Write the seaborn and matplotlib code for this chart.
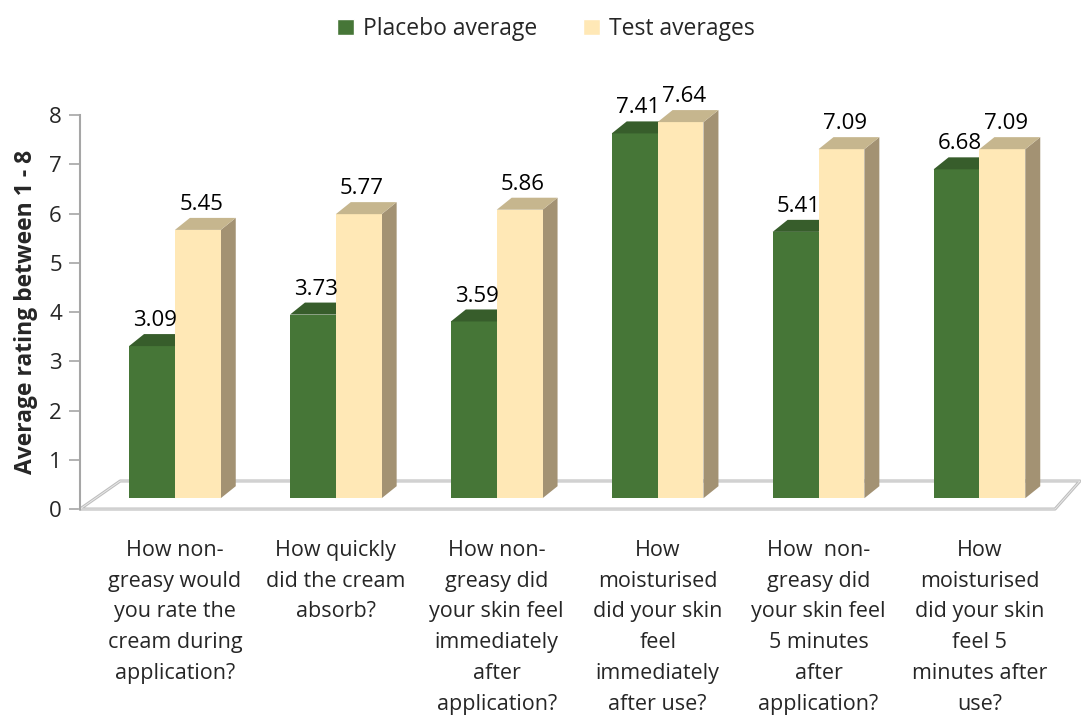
import pandas as pd
import matplotlib.pyplot as plt
import seaborn as sns
from matplotlib.patches import Polygon, Patch

# chart values
questions = [
    "How non-\ngreasy would\nyou rate the\ncream during\napplication?",
    "How quickly\ndid the cream\nabsorb?",
    "How non-\ngreasy did\nyour skin feel\nimmediately\nafter\napplication?",
    "How\nmoisturised\ndid your skin\nfeel\nimmediately\nafter use?",
    "How  non-\ngreasy did\nyour skin feel\n5 minutes\nafter\napplication?",
    "How\nmoisturised\ndid your skin\nfeel 5\nminutes after\nuse?",
]
placebo = [3.09, 3.73, 3.59, 7.41, 5.41, 6.68]
test = [5.45, 5.77, 5.86, 7.64, 7.09, 7.09]
series = ["Placebo average", "Test averages"]

front_cols = {"Placebo average": "#467637", "Test averages": "#FFE8B6"}
top_cols = {"Placebo average": "#375D2B", "Test averages": "#C6B68E"}
side_cols = {"Placebo average": "#2F4F25", "Test averages": "#A39273"}

df = pd.DataFrame({
    "question": questions * 2,
    "value": placebo + test,
    "series": [series[0]] * 6 + [series[1]] * 6,
})

sns.set_style("white")
plt.rcParams['font.family'] = ['Open Sans', 'DejaVu Sans']

fig = plt.figure(figsize=(10.81, 7.2), dpi=100)
ax = fig.add_axes([0.074, 0.293, 0.902, 0.547])

sns.barplot(data=df, x="question", y="value", hue="series", hue_order=series,
            palette=front_cols, width=0.57, saturation=1, legend=False,
            edgecolor="none", ax=ax)

base = 0.22     # bars stand a bit back on the floor
ddx = 0.093     # depth offset of the 3d faces (data units)
ddy = 0.244

for cont, name in zip(ax.containers, series):
    for bar in cont:
        h = bar.get_height()
        bar.set_y(base)
        bar.set_zorder(3 if name == series[1] else 2)
        x0 = bar.get_x()
        x1 = x0 + bar.get_width()
        top = base + h
        z = bar.get_zorder()
        ax.add_patch(Polygon([(x0, top), (x1, top), (x1 + ddx, top + ddy), (x0 + ddx, top + ddy)],
                             closed=True, facecolor=top_cols[name], edgecolor="none",
                             zorder=z, clip_on=False))
        ax.add_patch(Polygon([(x1, base), (x1 + ddx, base + ddy), (x1 + ddx, top + ddy), (x1, top)],
                             closed=True, facecolor=side_cols[name], edgecolor="none",
                             zorder=z - 0.5, clip_on=False))
        ax.text((x0 + x1) / 2 + 0.02, top + ddy + 0.06, f"{h:.2f}", ha="center", va="bottom",
                fontsize=16, color="black", zorder=5)

# floor
xl, xr = -0.59, 5.47
floor_x = [xl, xr, xr + 0.155, xl + 0.25, xl]
floor_y = [0, 0, 0.57, 0.57, 0]
ax.plot(floor_x, floor_y, color="#BDBDBD", lw=2.2, clip_on=False, zorder=1)
ax.plot(floor_x, floor_y, color="#E8E8E8", lw=0.7, clip_on=False, zorder=1)

ax.set_xlim(xl, xr)
ax.set_ylim(0, 8)
ax.set_yticks(range(0, 9))
ax.tick_params(axis="y", labelsize=16, length=8, width=1.2, color="#A6A6A6", pad=5, left=True)
ax.tick_params(axis="x", labelsize=15.5, length=0, pad=22)
for lab in ax.get_xticklabels():
    lab.set_linespacing(1.62)
    lab.set_va("top")

for s in ["top", "right", "bottom"]:
    ax.spines[s].set_visible(False)
ax.spines["left"].set_color("#A6A6A6")
ax.spines["left"].set_linewidth(1.5)

ax.set_xlabel("")
ax.set_ylabel("Average rating between 1 - 8", fontsize=16.5, fontweight="bold", labelpad=8)

handles = [Patch(facecolor=front_cols[s], label=s) for s in series]
fig.legend(handles=handles, loc="upper center", bbox_to_anchor=(0.505, 1.005), ncol=2,
           frameon=False, fontsize=16.5, handlelength=0.75, handleheight=0.75,
           handletextpad=0.4, columnspacing=2.0)

fig.savefig("out.png", dpi=100)
